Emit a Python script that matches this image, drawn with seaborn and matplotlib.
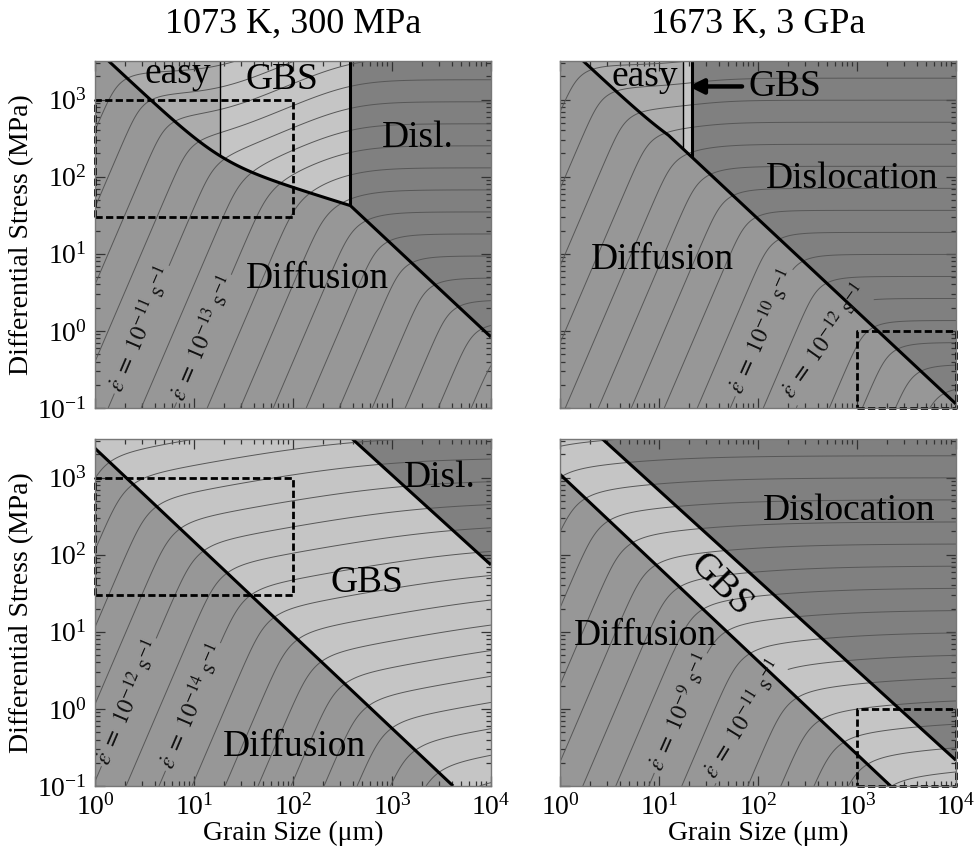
import numpy as np
import matplotlib
matplotlib.use("Agg")
import matplotlib.pyplot as plt
from matplotlib.colors import ListedColormap
from matplotlib.ticker import LogLocator, NullFormatter
import seaborn as sns

# ---------------------------------------------------------------------------
# Conditions of the two columns
col_titles = ["1073 K, 300 MPa", "1673 K, 3 GPa"]

# Flow laws  e_dot = A * sigma^n * d^-p   (sigma in MPa, d in um, e_dot in 1/s)
# log10(A); rows = upper / lower map set, columns = 1073 K / 1673 K
logA_diff = [[-9.60, -3.84], [-11.06, -5.31]]
logA_disl = [[-21.40, -13.47], [-21.40, -13.49]]
logA_gbs = [[-16.24, -10.81], [-17.48, -11.09]]
logA_easy = [[-18.76, -13.29], [None, None]]   # easy slip only in the upper set

n_diff, p_diff = 1.0, 3.0
n_disl = 3.5
n_easy = 3.5
n_gbs = [3.5, 2.9]     # per row
p_gbs = [2.0, 0.7]

# Labelled strain-rate contours (log10 of 1/s)
label_levels = [[[-11, -13], [-10, -12]],
                [[-12, -14], [-9, -11]]]

# Axis range (grain size um, stress MPa)
d_range = (1.0, 1.0e4)
s_range = (0.1, 10 ** 3.5)

# Boxes outlining the experimentally accessible window
box_d = [[(1, 100), (1000, 1e4)], [(1, 100), (1000, 1e4)]]
box_s = [[(30, 1000), (0.1, 1)], [(30, 1000), (0.1, 1)]]

# ---------------------------------------------------------------------------
# Layout of annotations (log10 d, log10 sigma)
label_pos = [[[(0.50, 0.0), (1.10, -0.10)], [(2.05, -0.02), (2.68, -0.14)]],
             [[(0.37, 0.07), (0.98, 0.03)], [(1.21, -0.05), (1.86, -0.14)]]]

mech_text = [
    [[("easy", 0.84, 3.33, 0), ("GBS", 1.89, 3.26, 0), ("Disl.", 3.26, 2.51, 0),
      ("Diffusion", 2.25, 0.68, 0)],
     [("easy", 0.86, 3.30, 0), ("Dislocation", 2.95, 1.97, 0), ("Diffusion", 1.03, 0.92, 0)]],
    [[("Disl.", 3.48, 3.0, 0), ("GBS", 2.75, 1.63, 0), ("Diffusion", 2.01, -0.49, 0)],
     [("Dislocation", 2.92, 2.57, 0), ("GBS", 1.62, 1.61, -45), ("Diffusion", 0.86, 0.95, 0)]],
]

col_diff = "#979797"
col_easy = "#acacac"
col_gbs = "#c5c5c5"
col_disl = "#808080"

sns.set_style("ticks")
plt.rcParams["font.family"] = ["Liberation Serif", "DejaVu Serif"]
plt.rcParams["mathtext.fontset"] = "stix"
plt.rcParams["text.color"] = "black"
plt.rcParams["axes.labelcolor"] = "black"

fig = plt.figure(figsize=(9.78, 8.48), dpi=100)
W, H = 978.0, 848.0
x_left = [95, 560]
ax_w = 396
y_top = [61, 439]
ax_h = 347

LN10 = np.log(10.0)


def log_add(a, b):
    return np.logaddexp(a * LN10, b * LN10) / LN10


ld = np.linspace(np.log10(d_range[0]), np.log10(d_range[1]), 900)
ls = np.linspace(np.log10(s_range[0]), np.log10(s_range[1]), 900)
LD, LS = np.meshgrid(ld, ls)
D, S = 10 ** LD, 10 ** LS

for r in range(2):
    for c in range(2):
        ax = fig.add_axes([x_left[c] / W, 1 - (y_top[r] + ax_h) / H, ax_w / W, ax_h / H])
        ax.set_xscale("log")
        ax.set_yscale("log")
        ax.set_xlim(*d_range)
        ax.set_ylim(*s_range)

        e_diff = logA_diff[r][c] + n_diff * LS - p_diff * LD
        e_disl = logA_disl[r][c] + n_disl * LS
        e_gbs = logA_gbs[r][c] + n_gbs[r] * LS - p_gbs[r] * LD
        if logA_easy[r][c] is not None:
            e_easy = logA_easy[r][c] + n_easy * LS
            # grain-boundary sliding and easy slip act in series
            e_series = -log_add(-e_gbs, -e_easy)
            e_limit = np.minimum(e_gbs, e_easy)
        else:
            e_easy = None
            e_series = e_gbs
            e_limit = e_gbs
        e_total = log_add(log_add(e_diff, e_disl), e_series)

        # dominant mechanism: 0 diffusion, 1 easy slip, 2 GBS, 3 dislocation
        f_diff = e_diff - np.maximum(e_disl, e_series)
        region = np.full(LD.shape, 2)
        if e_easy is not None:
            region[e_easy < e_gbs] = 1
        region[e_disl >= e_limit] = 3
        region[f_diff >= 0] = 0

        cmap = ListedColormap([col_diff, col_easy, col_gbs, col_disl])
        ax.pcolormesh(D, S, region, cmap=cmap, vmin=-0.5, vmax=3.5,
                      shading="auto", rasterized=True, zorder=0)

        lab = [float(v) for v in label_levels[r][c]]
        levels = np.arange(np.floor(e_total.min()), np.ceil(e_total.max()) + 1)
        plain = [lv for lv in levels if lv not in lab]
        ax.contour(D, S, e_total, levels=plain, colors="#575757",
                   linewidths=0.7, linestyles="solid")
        cs = ax.contour(D, S, e_total, levels=sorted(lab), colors="#575757",
                        linewidths=0.7, linestyles="solid")
        fmt = {lv: r"$\dot{\varepsilon}\ =\ 10^{%d}\ \mathrm{s}^{-1}$" % int(lv)
               for lv in cs.levels}
        ax.clabel(cs, inline=True, inline_spacing=3, fmt=fmt, fontsize=17,
                  colors="#111111",
                  manual=[(10 ** x, 10 ** y) for x, y in label_pos[r][c]])

        # mechanism boundaries
        ax.contour(D, S, f_diff, levels=[0], colors="k", linewidths=2.2,
                   linestyles="solid")
        f_gd = np.ma.masked_where(f_diff >= 0, e_limit - e_disl)
        ax.contour(D, S, f_gd, levels=[0], colors="k", linewidths=2.2,
                   linestyles="solid")
        if e_easy is not None:
            f_ge = np.ma.masked_where((region == 0) | (region == 3), e_gbs - e_easy)
            ax.contour(D, S, f_ge, levels=[0], colors="k", linewidths=1.0,
                       linestyles="solid")

        # dashed window
        (d0, d1), (s0, s1) = box_d[r][c], box_s[r][c]
        ax.plot([d0, d1, d1, d0, d0], [s0, s0, s1, s1, s0], color="k",
                lw=2.0, dashes=(2.6, 1.2), clip_on=False, zorder=5)

        for txt, x, y, rot in mech_text[r][c]:
            ax.text(10 ** x, 10 ** y, txt, fontsize=27, ha="center", va="center",
                    rotation=rot, rotation_mode="anchor", zorder=6)
        if r == 0 and c == 1:
            ax.annotate("GBS", xy=(10 ** 1.30, 10 ** 3.17),
                        xytext=(10 ** 1.90, 10 ** 3.17), fontsize=27,
                        ha="left", va="center", zorder=6,
                        arrowprops=dict(arrowstyle="-|>", color="k", lw=3.2,
                                        mutation_scale=22, shrinkA=2, shrinkB=0))

        ax.xaxis.set_major_locator(LogLocator(base=10, numticks=10))
        ax.yaxis.set_major_locator(LogLocator(base=10, numticks=10))
        ax.xaxis.set_minor_locator(LogLocator(base=10, subs=np.arange(2, 10), numticks=20))
        ax.yaxis.set_minor_locator(LogLocator(base=10, subs=np.arange(2, 10), numticks=20))
        ax.xaxis.set_minor_formatter(NullFormatter())
        ax.yaxis.set_minor_formatter(NullFormatter())
        ax.tick_params(which="both", direction="in", top=True, right=True,
                       color="#333333", labelcolor="black", width=0.9,
                       labelsize=20)
        ax.tick_params(which="major", length=7)
        ax.tick_params(which="minor", length=3.5)
        ax.tick_params(axis="x", pad=6)
        ax.tick_params(axis="y", pad=6)
        for sp in ax.spines.values():
            sp.set_color("#777777")
            sp.set_linewidth(1.0)
            sp.set_zorder(7)

        if r == 0:
            ax.tick_params(labelbottom=False)
            ax.set_title(col_titles[c], fontsize=26, pad=20)
        else:
            ax.set_xlabel("Grain Size (μm)", fontsize=20, labelpad=0)
        if c == 1:
            ax.tick_params(labelleft=False)
        else:
            ax.set_ylabel("Differential Stress (MPa)", fontsize=20, labelpad=2)

fig.savefig("out.png", dpi=100)
